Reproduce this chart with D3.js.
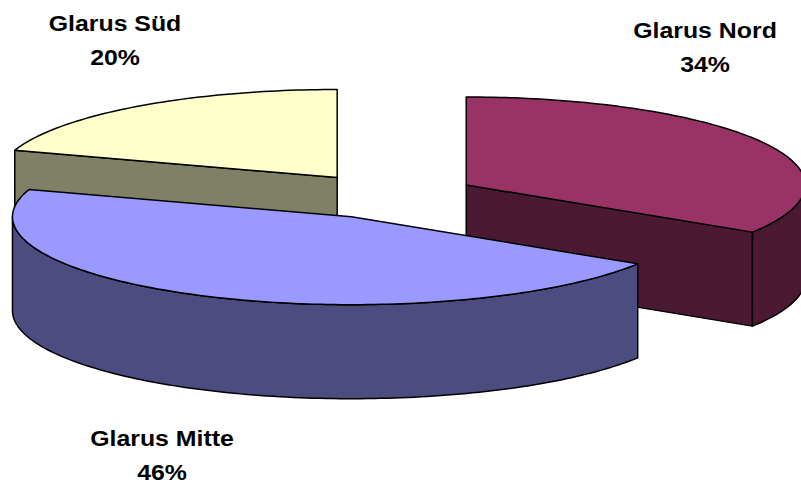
<html>
  <head>
    <meta charset="utf-8" />
    <script src="https://cdnjs.cloudflare.com/ajax/libs/d3/7.6.1/d3.min.js"></script>
    <style>
      body { margin: 0; background: #fff; }
      svg { display: block; }
      text { font-family: "Liberation Sans", Arial, sans-serif; font-weight: bold; fill: #000; }
    </style>
  </head>
  <body>
    <svg width="801" height="487"></svg>
  </body>
  <script>
    const categories = ["Glarus Nord", "Glarus Mitte", "Glarus Süd"];
    const shares = [34, 46, 20];
    const topColors = ["#993366", "#9999FF", "#FFFFCC"];
    const sideColors = ["#4C1933", "#4C4C80", "#808066"];

    // label placement (anchor centre of the two-line label)
    const labelPos = [
      { x: 705, y: 38 },
      { x: 162, y: 446 },
      { x: 115, y: 31 },
    ];

    const svg = d3.select("svg");
    const cx = 389, cy = 196; // pie centre before explosion
    const rx = 339, ry = 88, depth = 94, explode = 0.26;

    const pie = d3.pie().sort(null).startAngle(0).endAngle(2 * Math.PI);
    const arcs = pie(shares);

    const pt = (c, t, dy = 0) => [c.x + rx * Math.sin(t), c.y - ry * Math.cos(t) + dy];
    const line = d3.line();

    function sample(a0, a1) {
      const n = Math.max(2, Math.ceil(Math.abs(a1 - a0) / 0.02));
      return d3.range(n + 1).map((i) => a0 + ((a1 - a0) * i) / n);
    }

    arcs.forEach((a, i) => {
      const mid = (a.startAngle + a.endAngle) / 2;
      a.c = {
        x: cx + explode * rx * Math.sin(mid),
        y: cy - explode * ry * Math.cos(mid),
      };
    });

    // back to front: Süd, Nord, Mitte
    const order = [2, 0, 1];

    order.forEach((i) => {
      const a = arcs[i];
      const c = a.c;
      const g = svg.append("g");
      const faceStyle = (sel, fill) =>
        sel.attr("fill", fill).attr("stroke", "#000").attr("stroke-width", 1.5).attr("stroke-linejoin", "round");

      // radial faces
      [
        [a.startAngle, Math.sin(a.startAngle) < -1e-6],
        [a.endAngle, Math.sin(a.endAngle) > 1e-6],
      ].forEach(([ang, vis]) => {
        if (!vis) return;
        const p = pt(c, ang);
        const pts = [[c.x, c.y], p, [p[0], p[1] + depth], [c.x, c.y + depth]];
        faceStyle(g.append("path").attr("d", line(pts) + "Z"), sideColors[i]);
      });

      // outer wall
      const w0 = Math.max(a.startAngle, Math.PI / 2);
      const w1 = Math.min(a.endAngle, (3 * Math.PI) / 2);
      if (w1 > w0) {
        const ts = sample(w0, w1);
        const pts = ts.map((t) => pt(c, t)).concat(ts.slice().reverse().map((t) => pt(c, t, depth)));
        faceStyle(g.append("path").attr("d", line(pts) + "Z"), sideColors[i]);
      }

      // top face
      const topPts = [[c.x, c.y]].concat(sample(a.startAngle, a.endAngle).map((t) => pt(c, t)));
      faceStyle(g.append("path").attr("d", line(topPts) + "Z"), topColors[i]);
    });

    // labels
    categories.forEach((name, i) => {
      const p = labelPos[i];
      const g = svg.append("g").attr("transform", `translate(${p.x},${p.y}) scale(1.13,1)`);
      g.append("text").attr("text-anchor", "middle").attr("font-size", 22).text(name);
      g.append("text").attr("text-anchor", "middle").attr("font-size", 22).attr("y", 34).text(`${shares[i]}%`);
    });
  </script>
</html>
